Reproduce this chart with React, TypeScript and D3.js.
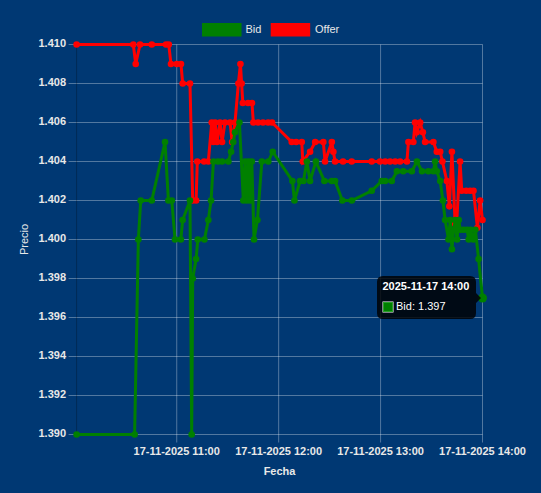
import React from "react";
import * as d3 from "d3";

const DAY = "2025-11-17";

const offerTimes = [
  "10:01:03", "10:34:26", "10:35:51", "10:38:24", "10:45:18", "10:53:42", "10:55:18", "10:56:36",
  "11:00:00", "11:02:30", "11:03:30", "11:07:48", "11:09:24", "11:11:24", "11:12:06", "11:16:06",
  "11:18:36", "11:20:36", "11:21:33", "11:22:36", "11:23:42", "11:25:30", "11:26:42", "11:28:24",
  "11:31:24", "11:32:36", "11:34:18", "11:36:18", "11:37:30", "11:38:12", "11:38:54", "11:42:00",
  "11:44:18", "11:45:06", "11:47:54", "11:50:48", "11:53:48", "11:56:06", "12:07:42", "12:10:18",
  "12:13:36", "12:14:12", "12:18:30", "12:21:30", "12:26:18", "12:27:18", "12:31:18", "12:32:12",
  "12:33:12", "12:37:54", "12:43:00", "12:54:48", "12:59:42", "13:02:42", "13:05:36", "13:08:36",
  "13:11:30", "13:15:30", "13:16:24", "13:19:18", "13:20:18", "13:21:18", "13:23:18", "13:24:54",
  "13:26:12", "13:31:06", "13:33:06", "13:35:06", "13:36:24", "13:39:00", "13:40:30", "13:42:00",
  "13:43:54", "13:44:54", "13:46:48", "13:47:48", "13:50:24", "13:52:42", "13:54:42", "13:57:00",
  "13:58:36", "14:00:00",
];
const offerValues = [
  1.410, 1.410, 1.409, 1.410, 1.410, 1.410, 1.410, 1.409,
  1.409, 1.409, 1.408, 1.408, 1.402, 1.402, 1.404, 1.404,
  1.404, 1.406, 1.405, 1.406, 1.405, 1.406, 1.405, 1.406,
  1.406, 1.405, 1.406, 1.408, 1.409, 1.408, 1.407, 1.407,
  1.407, 1.406, 1.406, 1.406, 1.406, 1.406, 1.405, 1.405,
  1.405, 1.404, 1.4045, 1.405, 1.405, 1.404, 1.405, 1.4045,
  1.404, 1.404, 1.404, 1.404, 1.404, 1.404, 1.404, 1.404,
  1.404, 1.404, 1.405, 1.405, 1.406, 1.4055, 1.406, 1.4055,
  1.405, 1.405, 1.4045, 1.4045, 1.404, 1.403, 1.4017, 1.4045,
  1.4008, 1.401, 1.404, 1.4025, 1.4025, 1.4025, 1.4025, 1.4006,
  1.402, 1.401,
];

const bidTimes = [
  "10:01:03", "10:35:12", "10:37:24", "10:38:48", "10:45:18", "10:53:06", "10:55:06", "10:57:06",
  "10:59:00", "11:02:24", "11:03:30", "11:07:48", "11:08:48", "11:09:24", "11:11:24", "11:12:24",
  "11:16:18", "11:18:36", "11:20:12", "11:21:36", "11:24:18", "11:26:42", "11:30:24", "11:32:00",
  "11:33:18", "11:34:18", "11:36:54", "11:39:12", "11:40:12", "11:41:12", "11:42:12", "11:43:12",
  "11:44:12", "11:45:30", "11:47:30", "11:50:06", "11:53:54", "11:56:30", "12:08:06", "12:09:18",
  "12:12:36", "12:14:36", "12:16:36", "12:18:30", "12:21:54", "12:26:54", "12:31:18", "12:33:12",
  "12:37:30", "12:43:06", "12:54:48", "13:00:42", "13:02:42", "13:06:36", "13:09:36", "13:13:18",
  "13:18:24", "13:21:24", "13:24:24", "13:28:06", "13:31:06", "13:32:06", "13:33:06", "13:35:06",
  "13:36:42", "13:38:00", "13:40:00", "13:41:00", "13:42:00", "13:43:00", "13:44:00", "13:45:00",
  "13:46:00", "13:46:54", "13:48:54", "13:50:54", "13:51:54", "13:52:54", "13:54:36", "13:55:48",
  "13:57:42", "14:00:00",
];
const bidValues = [
  1.390, 1.390, 1.400, 1.402, 1.402, 1.405, 1.402, 1.402,
  1.400, 1.400, 1.401, 1.402, 1.390, 1.398, 1.399, 1.400,
  1.400, 1.401, 1.402, 1.404, 1.404, 1.404, 1.404, 1.4045,
  1.405, 1.4055, 1.406, 1.402, 1.404, 1.402, 1.404, 1.402,
  1.404, 1.400, 1.401, 1.404, 1.404, 1.4045, 1.403, 1.402,
  1.403, 1.403, 1.404, 1.403, 1.404, 1.403, 1.403, 1.403,
  1.402, 1.402, 1.4025, 1.403, 1.403, 1.403, 1.4035, 1.4035,
  1.4035, 1.404, 1.4035, 1.4035, 1.4035, 1.404, 1.4035, 1.403,
  1.402, 1.401, 1.400, 1.401, 1.3995, 1.4005, 1.401, 1.400,
  1.401, 1.4005, 1.4005, 1.4005, 1.400, 1.4005, 1.400, 1.4005,
  1.399, 1.397,
];

const yTicks = [1.390, 1.392, 1.394, 1.396, 1.398, 1.400, 1.402, 1.404, 1.406, 1.408, 1.410];
const seriesNames = ["Bid", "Offer"];
const seriesColors = ["#008000", "#ff0000"];
const tooltipTitle = "2025-11-17 14:00";
const tooltipLabel = "Bid: 1.397";
const xTitle = "Fecha";
const yTitle = "Precio";

const W = 541;
const H = 493;
const BG = "#003873";
const FONT = "'Liberation Sans', Arial, Helvetica, sans-serif";
const TEXT = "#e8e8e8";
const GRID = "rgba(255,255,255,0.32)";

const parse = (t: string) => new Date(`${DAY}T${t}`);

type Pt = { t: Date; v: number };

export default function App() {
  const bid: Pt[] = bidTimes.map((t, i) => ({ t: parse(t), v: bidValues[i] }));
  const offer: Pt[] = offerTimes.map((t, i) => ({ t: parse(t), v: offerValues[i] }));

  const left = 76.6, right = 482.5, top = 44.5, bottom = 434.5;
  const x = d3.scaleTime().domain([parse(offerTimes[0]), parse("14:00:00")]).range([left, right]);
  const y = d3.scaleLinear().domain([1.39, 1.41]).range([bottom, top]);
  const xTicks = x.ticks(d3.timeHour.every(1)!);
  const fmtX = d3.timeFormat("%d-%m-%Y %H:%M");
  const fmtY = d3.format(".3f");

  const line = d3.line<Pt>().x((d) => x(d.t)).y((d) => y(d.v));

  const last = bid[bid.length - 1];
  const px = x(last.t), py = y(last.v);
  const tipR = px - 6.5, tipL = tipR - 99, tipT = 276, tipB = 319;

  const renderSeries = (data: Pt[], color: string) => (
    <g>
      <path d={line(data) || ""} fill="none" stroke={color} strokeWidth={3} strokeLinejoin="miter" />
      {data.map((d, i) => (
        <circle key={i} cx={x(d.t)} cy={y(d.v)} r={3.3} fill={color} />
      ))}
    </g>
  );

  return (
    <svg width={W} height={H} style={{ position: "absolute", left: 0, top: 0 }} fontFamily={FONT}>
      <rect x={0} y={0} width={W} height={H} fill={BG} />
      {/* legend */}
      <g>
        <rect x={202} y={23} width={39.5} height={13.5} fill={seriesColors[0]} />
        <text x={245.5} y={29.8} fill={TEXT} fontSize={11} dominantBaseline="middle">{seriesNames[0]}</text>
        <rect x={270.7} y={23} width={39.5} height={13.5} fill={seriesColors[1]} />
        <text x={315} y={29.8} fill={TEXT} fontSize={11} dominantBaseline="middle">{seriesNames[1]}</text>
      </g>
      {/* horizontal grid */}
      {yTicks.map((v) => (
        <g key={v}>
          <line x1={left - 8} x2={right} y1={y(v)} y2={y(v)} stroke={GRID} strokeWidth={1} />
          <text x={66} y={y(v)} fill={TEXT} fontSize={11} fontWeight="bold" textAnchor="end" dominantBaseline="middle">
            {fmtY(v)}
          </text>
        </g>
      ))}
      {/* vertical grid */}
      {xTicks.map((t) => (
        <g key={+t}>
          <line x1={x(t)} x2={x(t)} y1={top} y2={bottom + 8} stroke={GRID} strokeWidth={1} />
          <text x={x(t)} y={452} fill={TEXT} fontSize={11} fontWeight="bold" textAnchor="middle" dominantBaseline="middle">
            {fmtX(t)}
          </text>
        </g>
      ))}
      <line x1={left} x2={left} y1={top} y2={bottom} stroke="rgba(0,0,0,0.25)" strokeWidth={1} />
      {/* axis titles */}
      <text x={(left + right) / 2} y={472} fill={TEXT} fontSize={11} fontWeight="bold" textAnchor="middle" dominantBaseline="middle">
        {xTitle}
      </text>
      <text
        transform={`translate(25,${(top + bottom) / 2}) rotate(-90)`}
        fill={TEXT}
        fontSize={11}
        textAnchor="middle"
        dominantBaseline="middle"
      >
        {yTitle}
      </text>
      {/* series: Offer first, Bid on top */}
      {renderSeries(offer, seriesColors[1])}
      {renderSeries(bid, seriesColors[0])}
      <circle cx={px} cy={py} r={4.5} fill={seriesColors[0]} />
      {/* tooltip */}
      <g>
        <path
          d={`M${tipL + 6},${tipT} H${tipR - 6} Q${tipR},${tipT} ${tipR},${tipT + 6} V${py - 5} L${tipR + 5},${py} L${tipR},${py + 5} V${tipB - 6} Q${tipR},${tipB} ${tipR - 6},${tipB} H${tipL + 6} Q${tipL},${tipB} ${tipL},${tipB - 6} V${tipT + 6} Q${tipL},${tipT} ${tipL + 6},${tipT} Z`}
          fill="rgba(0,0,0,0.82)"
        />
        <text x={tipL + 5.5} y={287.3} fill="#fff" fontSize={11} fontWeight="bold" dominantBaseline="middle">
          {tooltipTitle}
        </text>
        <rect x={tipL + 5.5} y={301.5} width={11} height={11} fill="#fff" />
        <rect x={tipL + 6.5} y={302.5} width={9} height={9} fill={seriesColors[0]} stroke="#2aa02a" strokeWidth={1} />
        <text x={tipL + 19} y={307} fill="#fff" fontSize={11} dominantBaseline="middle">
          {tooltipLabel}
        </text>
      </g>
    </svg>
  );
}
